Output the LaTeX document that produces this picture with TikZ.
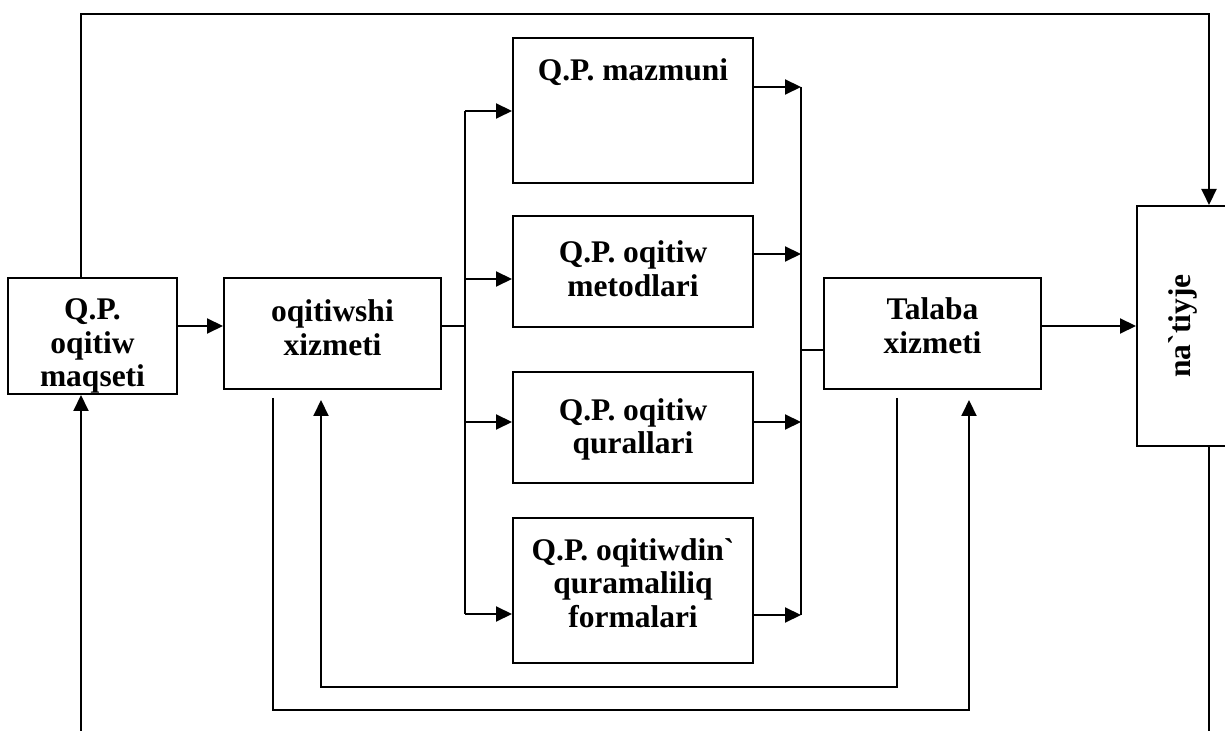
\documentclass[tikz,border=0pt]{standalone}
\usepackage{fontspec}
\setmainfont{Liberation Serif}[Ligatures=TeXOff]
\usetikzlibrary{arrows.meta}

\begin{document}
\begin{tikzpicture}[x=0.5pt, y=-0.5pt,
		blk/.style={draw, line width=1pt, align=center, inner sep=3pt,
			font=\fontsize{15.75}{16.75}\selectfont\bfseries},
		ln/.style={line width=1pt},
		arr/.style={line width=1pt, -{Triangle[length=8pt, width=7.5pt]}}]
		\useasboundingbox (0,0) rectangle (1225,731);

		% blocks
		\node[blk, minimum width=84.5pt, minimum height=58pt, text height=51.5pt, text depth=0.5pt] (maqs) at (92.5,336) {Q.P.\\oqitiw\\maqseti};
		\node[blk, minimum width=108.5pt, minimum height=55.5pt, text height=35.75pt, text depth=13.75pt] (oqit) at (332.5,333.5) {oqitiwshi\\xizmeti};
		\node[blk, minimum width=120pt, minimum height=72.5pt, text height=18.5pt, text depth=48pt] (mazm) at (633,110.5) {Q.P. mazmuni};
		\node[blk, minimum width=120pt, minimum height=55.5pt, text height=37.25pt, text depth=12.25pt] (meto) at (633,271.5) {Q.P. oqitiw\\metodlari};
		\node[blk, minimum width=120pt, minimum height=55.5pt, text height=37.75pt, text depth=11.75pt] (qura) at (633,427.5) {Q.P. oqitiw\\qurallari};
		\node[blk, minimum width=120pt, minimum height=72.5pt, text height=51.5pt, text depth=15pt] (form) at (633,590.5) {Q.P. oqitiwdin`\\quramaliliq\\formalari};
		\node[blk, minimum width=108.5pt, minimum height=55.5pt, text height=34.75pt, text depth=14.75pt] (tala) at (932.5,333.5) {Talaba\\xizmeti};
		\node[blk, minimum width=46pt, minimum height=120pt] (nati) at (1183,326) {\rotatebox{90}{na`tiyje}};

		% helper points
		\coordinate (lvl) at (0,326);
		\coordinate (tap) at (0,350);
		\coordinate (busL) at (465,0);
		\coordinate (busR) at (801,0);
		\coordinate (topL) at (81,14);
		\coordinate (topR) at (1209,14);
		\coordinate (botL) at (81,731);
		\coordinate (botR) at (1209,731);
		\coordinate (fbA) at (273,710);
		\coordinate (fbB) at (969,710);
		\coordinate (fbC) at (897,687);
		\coordinate (fbD) at (321,687);

		% main line
		\draw[arr] (maqs.east |- lvl) -- (oqit.west |- lvl);
		\draw[ln] (oqit.east |- lvl) -- (busL |- lvl);
		\foreach \b/\yi/\yo in {mazm/111/87, meto/279/254, qura/422/422, form/614/615} {
			\coordinate (\b-in) at (465,\yi);
			\coordinate (\b-out) at (801,\yo);
			\draw[arr] (\b-in) -- (\b.west |- \b-in);
			\draw[arr] (\b.east |- \b-out) -- (\b-out);
		}
		\draw[ln] (mazm-in) -- (form-in);
		\draw[ln] (mazm-out) -- (form-out);
		\draw[ln] (busR |- tap) -- (tala.west |- tap);
		\draw[arr] (tala.east |- lvl) -- (nati.west |- lvl);

		% outer loop
		\draw[arr] (maqs.north -| topL) -- (topL) -- (topR) -- (nati.north -| topR);
		\draw[arr] (botL) -- (maqs.south -| botL);
		\draw[ln] (nati.south -| botR) -- (botR);

		% feedback
		\draw[arr, shorten <=4pt, shorten >=5pt] (oqit.south -| fbA) -- (fbA) -- (fbB) -- (tala.south -| fbB);
		\draw[arr, shorten <=4pt, shorten >=5pt] (tala.south -| fbC) -- (fbC) -- (fbD) -- (oqit.south -| fbD);
\end{tikzpicture}
\end{document}
